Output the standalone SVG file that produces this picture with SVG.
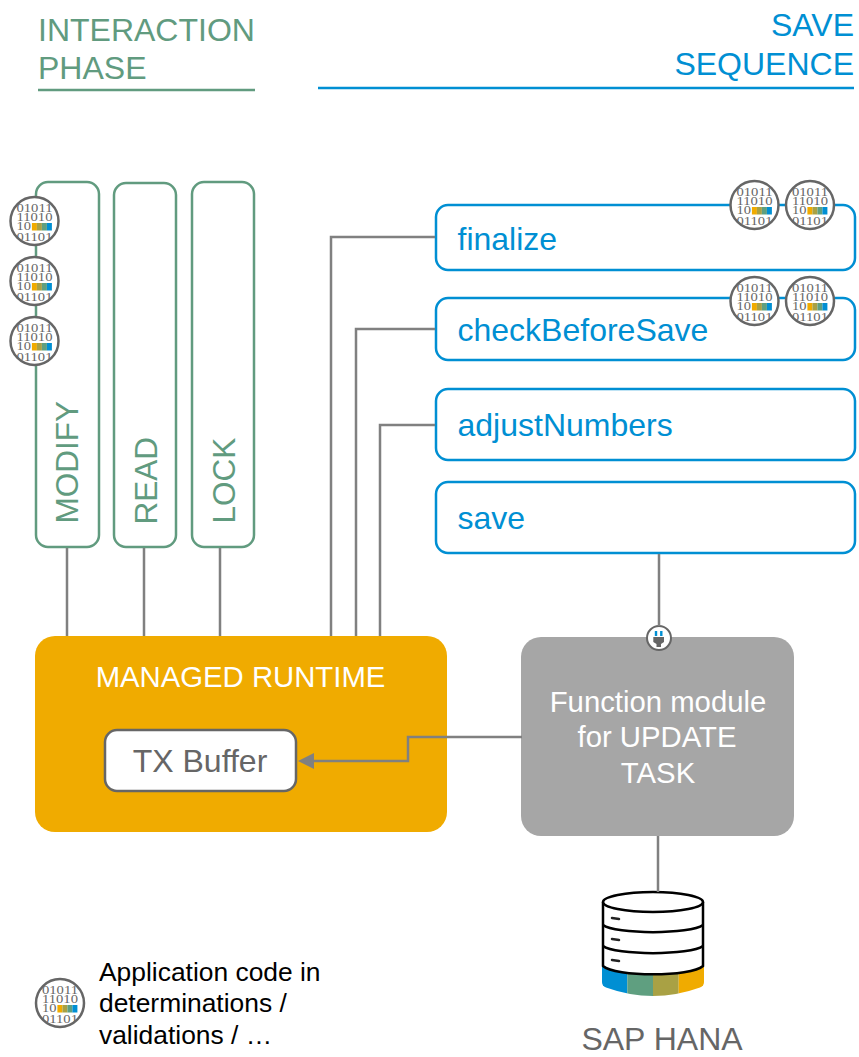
<svg xmlns="http://www.w3.org/2000/svg" width="859" height="1057" viewBox="0 0 859 1057">
<style>
text{font-family:"Liberation Sans",Arial,sans-serif}
.t{font-size:32px}
.v{font-size:31.5px}
.g{fill:#619b7f}.b{fill:#008fd3}
.gb{fill:#fff;stroke:#619b7f;stroke-width:2.5}
.bb{fill:#fff;stroke:#008fd3;stroke-width:2.5}
.c{fill:none;stroke:#808080;stroke-width:2.5}
.w{fill:#fff;font-size:29.3px;text-anchor:middle}
.l{font-size:26.4px;fill:#000}
.d{font-family:"Liberation Serif",serif;font-size:13px;fill:#666}
</style>
<defs>
<clipPath id="cc"><circle r="24"/></clipPath>
<clipPath id="band"><path d="M602 966H704V982Q704 986 700 987.5Q653 1004.5 606 987.5Q602 986 602 982Z"/></clipPath>
<marker id="arr" markerUnits="userSpaceOnUse" markerWidth="16" markerHeight="16" refX="1" refY="8" orient="auto"><path d="M0 0L16 8L0 16Z" fill="#808080"/></marker>
<g id="code">
<circle r="24" fill="#fff" stroke="#666" stroke-width="2.5"/>
<g clip-path="url(#cc)">
<text class="d" x="-18" y="-9.3" textLength="36" lengthAdjust="spacingAndGlyphs">01011</text>
<text class="d" x="-18" y="0" textLength="36" lengthAdjust="spacingAndGlyphs">11010</text>
<text class="d" x="-18" y="9.3" textLength="14.5" lengthAdjust="spacingAndGlyphs">10</text>
<text class="d" x="-18" y="19.7" textLength="36" lengthAdjust="spacingAndGlyphs">01101</text>
<rect x="-2.6" y="2" width="5" height="7.5" fill="#f0ab00"/>
<rect x="2.4" y="2" width="5" height="7.5" fill="#a9a144"/>
<rect x="7.4" y="2" width="5" height="7.5" fill="#5f9f80"/>
<rect x="12.4" y="2" width="5" height="7.5" fill="#008fd3"/>
</g>
</g>
</defs>
<rect width="859" height="1057" fill="#fff"/>
<g id="header-interaction">
<text class="t g" x="38" y="41">INTERACTION</text>
<text class="t g" x="38" y="79">PHASE</text>
<path d="M38 90H255" stroke="#619b7f" stroke-width="2.5"/>
</g>
<g id="header-save">
<text class="t b" x="854" y="36" text-anchor="end">SAVE</text>
<text class="t b" x="854" y="75" text-anchor="end">SEQUENCE</text>
<path d="M318 88H854" stroke="#008fd3" stroke-width="2.5"/>
</g>
<g id="modify">
<rect class="gb" x="36" y="182" width="63" height="365" rx="12"/>
<text class="v g" transform="translate(78 523.500) rotate(-90)">MODIFY</text>
<use href="#code" x="34.500" y="221"/>
<use href="#code" x="34.500" y="281"/>
<use href="#code" x="34.500" y="341"/>
</g>
<g id="read">
<rect class="gb" x="114" y="183" width="62" height="364" rx="12"/>
<text class="v g" transform="translate(157 524.500) rotate(-90)">READ</text>
</g>
<g id="lock">
<rect class="gb" x="192" y="182" width="62" height="365" rx="12"/>
<text class="v g" transform="translate(235 523.500) rotate(-90)">LOCK</text>
</g>
<g id="finalize">
<rect class="bb" x="436" y="205" width="419" height="65" rx="12"/>
<text class="t b" x="457.500" y="250">finalize</text>
<use href="#code" x="754.500" y="205"/>
<use href="#code" x="810" y="205"/>
</g>
<g id="checkBeforeSave">
<rect class="bb" x="436" y="298" width="419" height="62" rx="12"/>
<text class="t b" x="457.500" y="341">checkBeforeSave</text>
<use href="#code" x="754.500" y="301"/>
<use href="#code" x="810" y="301"/>
</g>
<g id="adjustNumbers">
<rect class="bb" x="436" y="389" width="419" height="71" rx="12"/>
<text class="t b" x="457.500" y="436">adjustNumbers</text>
</g>
<g id="save">
<rect class="bb" x="436" y="482" width="419" height="71" rx="12"/>
<text class="t b" x="457.500" y="529">save</text>
</g>
<g id="managed-runtime">
<rect x="35" y="636" width="412" height="196" rx="20" fill="#f0ab00"/>
<text class="w" x="240.500" y="687">MANAGED RUNTIME</text>
</g>
<g id="tx-buffer">
<rect x="105" y="730" width="191" height="61" rx="12" fill="#fff" stroke="#666" stroke-width="2.5"/>
<text class="t" x="200" y="772" fill="#666" text-anchor="middle">TX Buffer</text>
</g>
<g id="function-module">
<rect x="521" y="637" width="273" height="199" rx="20" fill="#a6a6a6"/>
<text class="w" x="658" y="712">Function module</text>
<text class="w" x="657" y="747">for UPDATE</text>
<text class="w" x="658" y="783">TASK</text>
<circle cx="659" cy="638" r="12" fill="#fff" stroke="#666" stroke-width="2"/>
<path d="M656 631V636M661.300 631V636" stroke="#008fd3" stroke-width="2.400"/>
<path d="M653.300 637H664V642L661 644V647H656.500V644L653.300 642Z" fill="#666"/>
</g>
<g id="sap-hana">
<g clip-path="url(#band)">
<rect x="602" y="960" width="25.300" height="40" fill="#008fd3"/>
<rect x="627.300" y="960" width="25.700" height="40" fill="#5f9f80"/>
<rect x="653" y="960" width="25.700" height="40" fill="#a9a144"/>
<rect x="678.700" y="960" width="25.300" height="40" fill="#f0ab00"/>
</g>
<path d="M603 902V966C615 977 691 977 703 966V902" fill="#fff" stroke="#000" stroke-width="2.500"/>
<ellipse cx="653" cy="902" rx="50" ry="10" fill="#fff" stroke="#000" stroke-width="2.500"/>
<path d="M603 925C615 934.500 691 934.500 703 925M603 946C615 955.500 691 955.500 703 946" fill="none" stroke="#000" stroke-width="2.500"/>
<path d="M612 918L619 919M612 939L619 940M612 960L619 961" stroke="#222" stroke-width="2.500" stroke-linecap="round"/>
<text class="t" x="662" y="1050" fill="#666" text-anchor="middle">SAP HANA</text>
</g>
<g id="legend">
<use href="#code" x="60" y="1003"/>
<text class="l" x="99" y="981">Application code in</text>
<text class="l" x="99" y="1012">determinations /</text>
<text class="l" x="99" y="1044">validations / …</text>
</g>
<g id="connectors">
<path class="c" d="M67 548V636M144 548V636M220 548V636"/>
<path class="c" d="M331 636V237H435M356 636V329H435M380 636V425H435"/>
<path class="c" d="M659 554V626M658 836V892"/>
<path class="c" d="M522 737H408V761H313" marker-end="url(#arr)"/>
</g>
</svg>
